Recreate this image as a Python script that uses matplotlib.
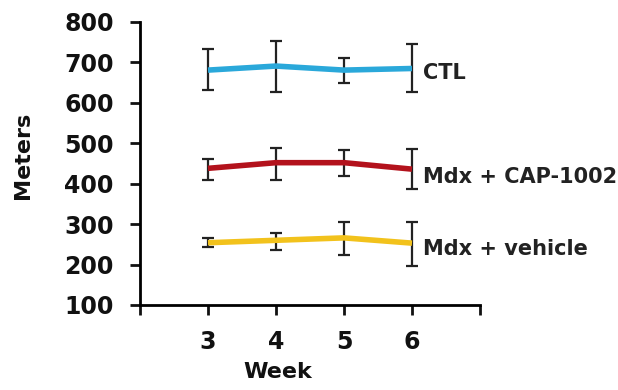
import matplotlib
matplotlib.use("Agg")
import matplotlib.pyplot as plt
from matplotlib.transforms import offset_copy
import numpy as np

plt.rcParams['font.family'] = ['DejaVu Sans']
plt.rcParams['font.weight'] = 'bold'

weeks = [3, 4, 5, 6]
groups = ["CTL", "Mdx + CAP-1002", "Mdx + vehicle"]
ctl_mean = [681, 691, 681, 685]
ctl_low = [633, 628, 650, 626]
ctl_high = [732, 754, 710, 746]
cap_mean = [438, 452, 452, 436]
cap_low = [409, 409, 420, 386]
cap_high = [460, 489, 483, 485]
veh_mean = [254, 260, 266, 253]
veh_low = [243, 236, 224, 196]
veh_high = [265, 279, 306, 306]
colors = ["#2aa8da", "#b3121c", "#f2c21c"]
yticks = [100, 200, 300, 400, 500, 600, 700, 800]
xticks = [2, 3, 4, 5, 6, 7]
xticklabels = ["", "3", "4", "5", "6", ""]

fig = plt.figure(figsize=(6.18, 3.90), dpi=100)
ax = fig.add_axes([0.2265, 0.218, 0.7767 - 0.2265, 0.9436 - 0.218])

series = [(ctl_mean, ctl_low, ctl_high), (cap_mean, cap_low, cap_high), (veh_mean, veh_low, veh_high)]
label_dy = [-3, -6, -4]  # small downward nudges in points
for (m, lo, hi), c, name, dy in zip(series, colors, groups, label_dy):
    m = np.array(m); lo = np.array(lo); hi = np.array(hi)
    ax.errorbar(weeks, m, yerr=[m - lo, hi - m], fmt='none', ecolor='#222222',
                elinewidth=1.6, capsize=4, capthick=1.6, zorder=2)
    ax.plot(weeks, m, color=c, lw=4, solid_capstyle='butt', zorder=3)
    tr = offset_copy(ax.transData, fig=fig, x=0, y=dy, units='points')
    ax.text(weeks[-1] + 0.16, m[-1], name, fontsize=15, fontweight='bold',
            va='center', ha='left', color='#222222', transform=tr)

ax.set_xlim(2, 7)
ax.set_ylim(100, 800)
ax.set_yticks(yticks)
ax.set_xticks(xticks)
ax.set_xticklabels(xticklabels)
ax.spines['top'].set_visible(False)
ax.spines['right'].set_visible(False)
for s in ['left', 'bottom']:
    ax.spines[s].set_linewidth(2)
ax.tick_params(axis='both', direction='out', length=7, width=2, labelsize=17,
               colors='#111111')
ax.tick_params(axis='y', pad=12)
ax.tick_params(axis='x', pad=11)
for lab in ax.get_xticklabels() + ax.get_yticklabels():
    lab.set_fontweight('bold')
ax.set_xlabel("Week", fontsize=16, fontweight='bold', color='#111111')
ax.set_ylabel("Meters", fontsize=16, fontweight='bold', color='#111111')
ax.xaxis.set_label_coords(0.404, -0.20)
ax.yaxis.set_label_coords(-0.315, 0.53)

fig.savefig("out.png", dpi=100)
